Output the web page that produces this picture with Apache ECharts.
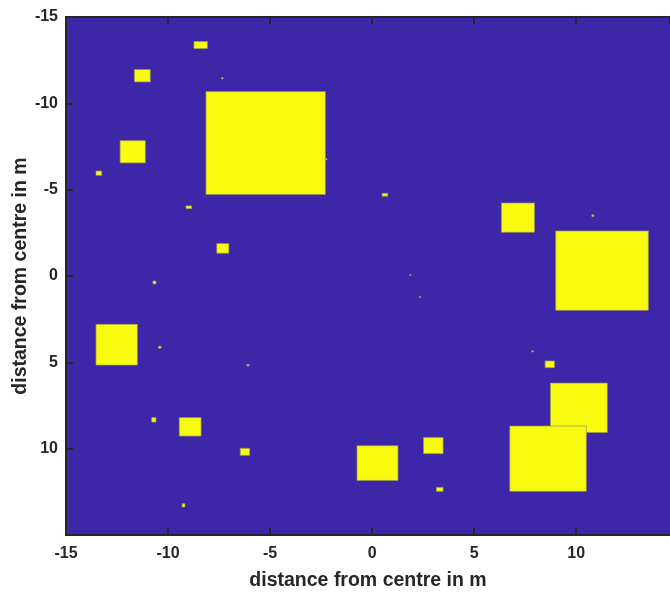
<!DOCTYPE html>
<html>
<head>
<meta charset="utf-8">
<script src="https://cdn.jsdelivr.net/npm/echarts@6/dist/echarts.min.js"></script>
<style>html,body{margin:0;padding:0;background:#fff;}#c{width:670px;height:592px;}</style>
</head>
<body>
<div id="c"></div>
<script>
// axis settings
const xTicks = [-15, -10, -5, 0, 5, 10];
const yTicks = [-15, -10, -5, 0, 5, 10];
const xRange = [-15, 14.6];
const yRange = [-15, 15];
const axisTitle = 'distance from centre in m';

// obstacles: [x0, x1, y0, y1] in metres
const largeObstacles = [
  [-8.14, -2.29, -10.68, -4.72],
  [9.00, 13.54, -2.61, 1.99],
  [-13.53, -11.50, 2.80, 5.16],
  [8.74, 11.53, 6.20, 9.07],
  [6.75, 10.50, 8.69, 12.47],
  [-0.74, 1.27, 9.83, 11.84]
];
const mediumObstacles = [
  [-11.65, -10.87, -11.96, -11.24],
  [-12.35, -11.11, -7.84, -6.55],
  [6.34, 7.96, -4.23, -2.53],
  [-7.61, -7.02, -1.88, -1.32],
  [-9.45, -8.38, 8.20, 9.27],
  [2.52, 3.48, 9.35, 10.29]
];
const smallObstacles = [
  [-8.73, -8.07, -13.58, -13.17],
  [-13.53, -13.25, -6.08, -5.83],
  [-9.12, -8.84, -4.06, -3.90],
  [0.49, 0.77, -4.79, -4.62],
  [8.48, 8.94, 4.92, 5.31],
  [-10.74, -10.59, 0.29, 0.46],
  [-10.80, -10.59, 8.20, 8.46],
  [-6.46, -6.00, 9.98, 10.39],
  [3.15, 3.48, 12.24, 12.47],
  [-9.31, -9.17, 13.19, 13.38]
];
const specks = [
  [-7.38, -7.30, -11.49, -11.41],
  [-2.29, -2.21, -6.80, -6.72],
  [10.77, 10.87, -3.55, -3.45],
  [1.85, 1.91, -0.09, -0.03],
  [2.32, 2.38, 1.19, 1.25],
  [7.82, 7.90, 4.32, 4.40],
  [-10.47, -10.34, 4.07, 4.19],
  [-6.13, -6.03, 5.12, 5.21]
];

const allObstacles = largeObstacles.concat(mediumObstacles, smallObstacles, specks);

const chart = echarts.init(document.getElementById('c'), null, {renderer: 'canvas'});
const axisColor = '#262626';
const fontFam = 'Liberation Sans, Arial, sans-serif';
const labelFont = {color: axisColor, fontFamily: fontFam, fontWeight: 'bold', fontSize: 16};
const titleFont = {color: axisColor, fontFamily: fontFam, fontWeight: 'bold', fontSize: 19.5};

function tickFmt(list) {
  return function (v) { return list.indexOf(v) >= 0 ? String(v) : ''; };
}
const lineStyle = {color: axisColor, width: 2};

chart.setOption({
  animation: false,
  backgroundColor: '#ffffff',
  grid: {
    left: 66, top: 17, bottom: 57, right: 0,
    containLabel: false, outerBoundsMode: 'none',
    show: true, backgroundColor: '#3E26A8', borderWidth: 0
  },
  xAxis: [{
    type: 'value', min: xRange[0], max: xRange[1], interval: 5, position: 'bottom',
    axisLine: {show: true, onZero: false, lineStyle: lineStyle},
    axisTick: {show: true, inside: true, length: 7, lineStyle: lineStyle},
    axisLabel: Object.assign({margin: 11, formatter: tickFmt(xTicks), showMaxLabel: false}, labelFont),
    splitLine: {show: false},
    name: axisTitle, nameLocation: 'middle', nameGap: 36, nameMoveOverlap: false,
    nameTextStyle: titleFont
  }, {
    type: 'value', min: xRange[0], max: xRange[1], interval: 5, position: 'top',
    axisLine: {show: true, onZero: false, lineStyle: lineStyle},
    axisTick: {show: true, inside: true, length: 7, lineStyle: lineStyle},
    axisLabel: {show: false}, splitLine: {show: false}
  }],
  yAxis: {
    type: 'value', min: yRange[0], max: yRange[1], interval: 5, inverse: true,
    axisLine: {show: true, onZero: false, lineStyle: lineStyle},
    axisTick: {show: true, inside: true, length: 7, lineStyle: lineStyle},
    axisLabel: Object.assign({margin: 8, formatter: tickFmt(yTicks)}, labelFont),
    splitLine: {show: false},
    name: axisTitle, nameLocation: 'middle', nameGap: 35, nameMoveOverlap: false,
    nameTextStyle: titleFont
  },
  series: [{
    type: 'custom',
    xAxisIndex: 0, yAxisIndex: 0,
    data: allObstacles,
    encode: {x: [0, 1], y: [2, 3]},
    renderItem: function (params, api) {
      const p0 = api.coord([api.value(0), api.value(2)]);
      const p1 = api.coord([api.value(1), api.value(3)]);
      return {
        type: 'rect',
        shape: {
          x: Math.min(p0[0], p1[0]), y: Math.min(p0[1], p1[1]),
          width: Math.max(1, Math.abs(p1[0] - p0[0])), height: Math.max(1, Math.abs(p1[1] - p0[1]))
        },
        style: {fill: '#F9FB0E', stroke: 'rgba(150,150,90,0.7)', lineWidth: 1}
      };
    }
  }]
});
</script>
</body>
</html>
